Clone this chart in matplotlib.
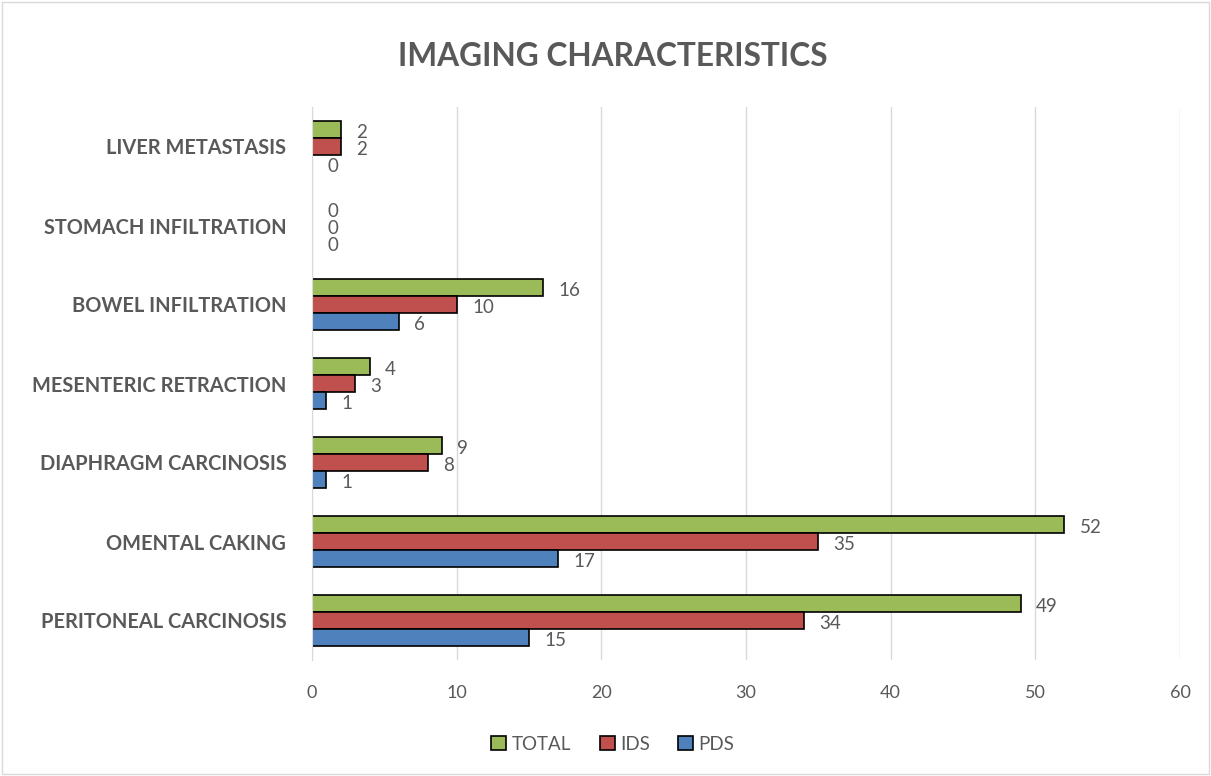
import matplotlib
matplotlib.use("Agg")
import matplotlib.pyplot as plt
import numpy as np
from matplotlib.patches import Rectangle

categories = ["PERITONEAL CARCINOSIS", "OMENTAL CAKING", "DIAPHRAGM CARCINOSIS",
              "MESENTERIC RETRACTION", "BOWEL INFILTRATION", "STOMACH INFILTRATION",
              "LIVER METASTASIS"]
pds = [15, 17, 1, 1, 6, 0, 0]
ids = [34, 35, 8, 3, 10, 0, 2]
total = [49, 52, 9, 4, 16, 0, 2]
xticks = [0, 10, 20, 30, 40, 50, 60]

plt.rcParams['font.family'] = ['Lato', 'DejaVu Sans']
gray = "#595959"

fig = plt.figure(figsize=(12.11, 7.76), dpi=100)
ax = fig.add_axes([312/1211, 1-660/776, (1180-312)/1211, (660-107)/776])

y = np.arange(len(categories))
h = 0.218
series = [("TOTAL", total, "#9BBB59", h), ("IDS", ids, "#C0504D", 0), ("PDS", pds, "#4F81BD", -h)]
for name, vals, col, off in series:
    ax.barh(y + off, vals, height=h, color=col, edgecolor="black", linewidth=1.2, label=name)
    for yy, v in zip(y + off, vals):
        ax.annotate(str(v), (v, yy), xytext=(11, -2), textcoords="offset points",
                    va="center", ha="left", fontsize=13.5, color=gray)

ax.set_xlim(0, 60)
ax.set_ylim(-0.5, 6.5)
ax.set_xticks(xticks)
ax.set_xticklabels([str(t) for t in xticks], fontsize=13, color=gray)
ax.set_yticks(y)
ax.set_yticklabels(categories, fontsize=14.4, color=gray, fontweight="bold")
ax.tick_params(axis="x", length=0, pad=18)
ax.tick_params(axis="y", length=0, pad=18.5)
ax.grid(axis="x", color="#D9D9D9", linewidth=1)
ax.set_axisbelow(True)
for s in ["top", "right", "bottom"]:
    ax.spines[s].set_visible(False)
ax.spines["left"].set_color("#D9D9D9")

fig.text(613/1211, 1-57/776, "IMAGING CHARACTERISTICS", ha="center", va="center",
         fontsize=22.8, fontweight="bold", color=gray)

leg = fig.legend(loc="center", bbox_to_anchor=(613/1211, 1-744/776), ncol=3, frameon=False,
                 fontsize=13.5, handlelength=0.8, handleheight=0.8, columnspacing=1.5,
                 handletextpad=0.3)
for t in leg.get_texts():
    t.set_color(gray)

fig.patches.append(Rectangle((0.002, 0.002), 0.996, 0.996, transform=fig.transFigure,
                             fill=False, edgecolor="#D9D9D9", linewidth=1))

fig.savefig("out.png", dpi=100)
